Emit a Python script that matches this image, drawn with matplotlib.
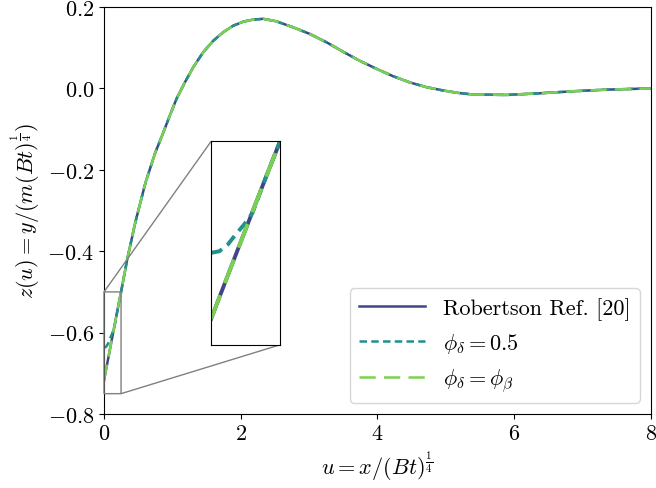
import numpy as np
import matplotlib
matplotlib.use("Agg")
import matplotlib.pyplot as plt

plt.rcParams['font.family'] = 'serif'
plt.rcParams['font.serif'] = ['cmr10', 'DejaVu Serif']
plt.rcParams['mathtext.fontset'] = 'cm'
plt.rcParams['axes.formatter.use_mathtext'] = True
plt.rcParams['font.size'] = 16

# values
u_ref = [0.0, 0.1, 0.2, 0.25, 0.34, 0.46, 0.61, 0.75, 0.843, 0.965, 1.063,
         1.184, 1.306, 1.452, 1.598, 1.744, 1.89, 2.037, 2.18, 2.33, 2.52,
         2.77, 3.01, 3.26, 3.50, 3.74, 3.99, 4.23, 4.47, 4.72, 4.96, 5.18,
         5.40, 5.89, 6.37, 6.86, 7.35, 8.0]
z_ref = [-0.718, -0.630, -0.543, -0.500, -0.420, -0.328, -0.230, -0.158, -0.119,
         -0.066, -0.025, 0.015, 0.052, 0.089, 0.117, 0.138, 0.154, 0.164,
         0.169, 0.171, 0.165, 0.150, 0.134, 0.113, 0.090, 0.068, 0.048, 0.030,
         0.015, 0.003, -0.005, -0.011, -0.015, -0.016, -0.012, -0.007, -0.003,
         0.000]

# phi_delta = 0.5 differs only at the very start
u_hook = [0.0, 0.03, 0.06, 0.09, 0.12, 0.15]
z_hook = [-0.637, -0.635, -0.627, -0.614, -0.602, -0.588]
u_half = u_hook + u_ref[2:]
z_half = z_hook + z_ref[2:]

# phi_delta = phi_beta lies on the reference
u_beta = u_ref
z_beta = z_ref

labels = ['Robertson Ref. [20]', r'$\phi_\delta = 0.5$', r'$\phi_\delta = \phi_\beta$']
colors = ['#414487', '#21918c', '#7ad151']
styles = ['-', (0, (3, 1.7)), (0, (6.5, 3.3))]

fig = plt.figure(figsize=(6.56, 4.89), dpi=100)
ax = fig.add_axes([0.1585, 0.1513, 0.8335, 0.8323])

series = [(u_ref, z_ref), (u_half, z_half), (u_beta, z_beta)]
for (u, z), lab, c, ls in zip(series, labels, colors, styles):
    ax.plot(u, z, color=c, ls=ls, lw=1.8, label=lab)

ax.set_xlim(0, 8)
ax.set_ylim(-0.8, 0.2)
ax.set_xticks([0, 2, 4, 6, 8])
ax.set_yticks([-0.8, -0.6, -0.4, -0.2, 0.0, 0.2])
ax.set_xlabel(r'$u = x/(Bt)^{\frac{1}{4}}$')
ax.set_ylabel(r'$z(u) = y/(m(Bt)^{\frac{1}{4}})$')
ax.legend(loc='lower right', handlelength=3.0)

# zoomed inset
axins = ax.inset_axes([0.196, 0.17, 0.126, 0.50])
for (u, z), c, ls in zip(series, colors, styles):
    axins.plot(u, z, color=c, ls=ls, lw=2.8)
axins.set_xlim(0, 0.25)
axins.set_ylim(-0.75, -0.5)
axins.set_xticks([])
axins.set_yticks([])
ax.indicate_inset_zoom(axins, edgecolor='gray', alpha=1, lw=1)

fig.savefig('out.png', dpi=100)
